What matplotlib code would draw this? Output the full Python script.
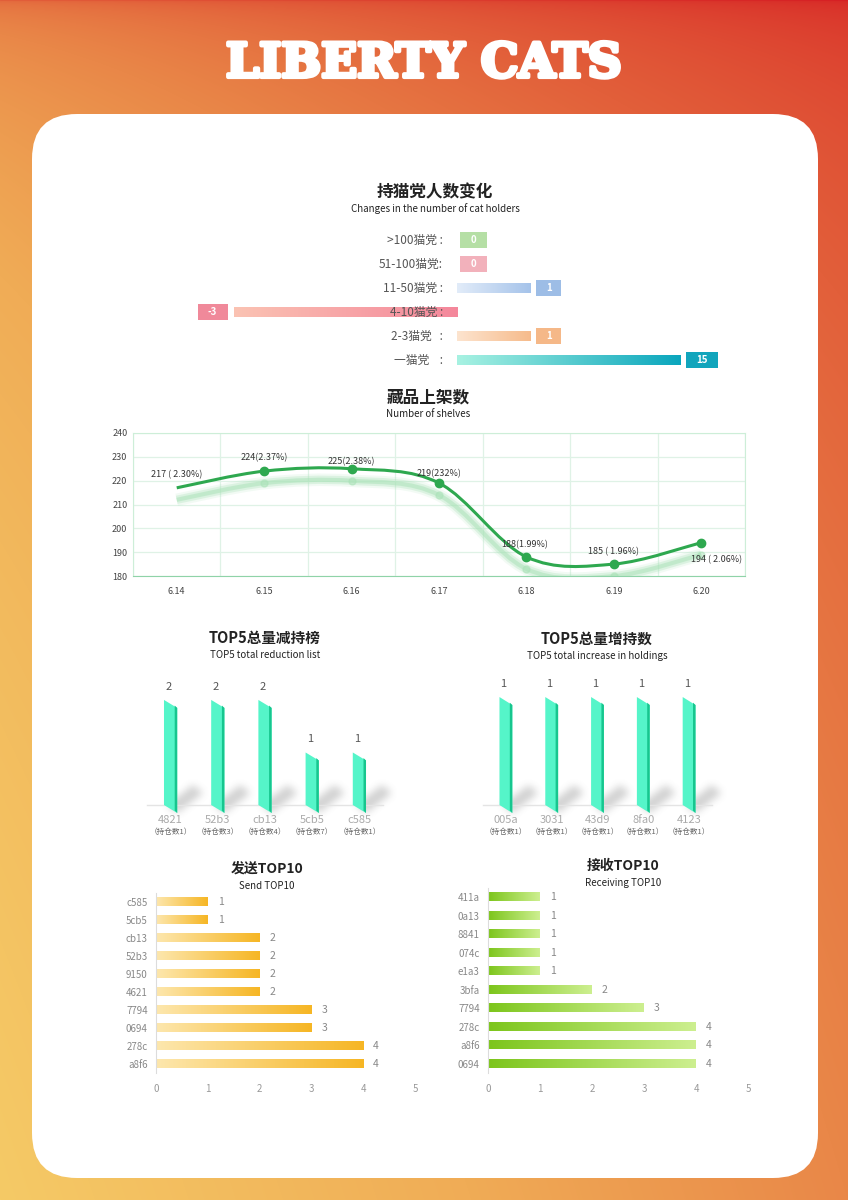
import numpy as np
import matplotlib
matplotlib.use('Agg')
import matplotlib.pyplot as plt
import matplotlib.transforms as mtrans
import matplotlib.patheffects as pe
from matplotlib.patches import FancyBboxPatch, Rectangle, Polygon, PathPatch
from matplotlib.path import Path
from matplotlib.colors import to_rgb

plt.rcParams['font.family'] = ['Noto Sans CJK SC', 'DejaVu Sans']

# ---- data ----
holder_groups = ['>100猫党 :', '51-100猫党:', '11-50猫党 :', '4-10猫党 :', '2-3猫党   :', '一猫党    :']
holder_change = [0, 0, 1, -3, 1, 15]

shelf_dates = ['6.14', '6.15', '6.16', '6.17', '6.18', '6.19', '6.20']
shelf_counts = [217, 224, 225, 219, 188, 185, 194]
shelf_labels = ['217 ( 2.30%)', '224(2.37%)', '225(2.38%)', '219(232%)',
                '188(1.99%)', '185 ( 1.96%)', '194 ( 2.06%)']

reduce_ids = ['4821', '52b3', 'cb13', '5cb5', 'c585']
reduce_vals = [2, 2, 2, 1, 1]
reduce_hold = [1, 3, 4, 7, 1]

increase_ids = ['005a', '3031', '43d9', '8fa0', '4123']
increase_vals = [1, 1, 1, 1, 1]
increase_hold = [1, 1, 1, 1, 1]

send_ids = ['c585', '5cb5', 'cb13', '52b3', '9150', '4621', '7794', '0694', '278c', 'a8f6']
send_vals = [1, 1, 2, 2, 2, 2, 3, 3, 4, 4]

recv_ids = ['411a', '0a13', '8841', '074c', 'e1a3', '3bfa', '7794', '278c', 'a8f6', '0694']
recv_vals = [1, 1, 1, 1, 1, 2, 3, 4, 4, 4]

W, H = 848, 1200
fig = plt.figure(figsize=(W / 100, H / 100), dpi=100)


def rect(x0, y0, x1, y1):
    return [x0 / W, 1 - y1 / H, (x1 - x0) / W, (y1 - y0) / H]


def grad_fill(ax, patch, c_left, c_right):
    bb = ax.transAxes.inverted().transform_bbox(patch.get_window_extent())
    g = np.linspace(0, 1, 256)[:, None]
    cols = (1 - g) * np.array(to_rgb(c_left)) + g * np.array(to_rgb(c_right))
    ax.imshow(cols[None, :, :], extent=[bb.xmin, bb.xmax, bb.ymin, bb.ymax],
              transform=ax.transAxes, aspect='auto', interpolation='bilinear', zorder=2)


def blur1d(a, r, axis):
    a = np.moveaxis(a, axis, -1)
    padw = [(0, 0)] * (a.ndim - 1) + [(r + 1, r)]
    cs = np.cumsum(np.pad(a, padw), axis=-1)
    out = (cs[..., 2 * r + 1:] - cs[..., :-2 * r - 1]) / (2 * r + 1)
    return np.moveaxis(out, -1, axis)


# ---- background ----
bg = fig.add_axes([0, 0, 1, 1])
bg.set_xlim(0, W)
bg.set_ylim(H, 0)
bg.axis('off')
u = np.linspace(0, 1, W)[None, :]
s = np.linspace(0, 1, H)[:, None] ** 0.33
d = (1 - s) * (0.35 * (1 - u)) + s * ((1 - u) + 0.55 * u)
stops = [0, 0.35, 0.55, 0.75, 1]
cols = [(214, 32, 36), (226, 95, 58), (233, 135, 72), (240, 172, 86), (245, 202, 102)]
img = np.stack([np.interp(d, stops, ch) for ch in zip(*cols)], axis=-1) / 255
bg.imshow(img, extent=[0, W, H, 0], aspect='auto', zorder=0)
bg.add_patch(FancyBboxPatch((32, 114), 786, 1064, boxstyle='round,pad=0,rounding_size=45',
                            fc='white', ec='none', zorder=1))
bg.text(424, 64, 'LIBERTY CATS', ha='center', va='center', fontsize=34, fontweight='bold',
        family='DejaVu Serif', color='white', zorder=3,
        path_effects=[pe.withStroke(linewidth=3, foreground='white')])


def titles(x, y, cn, en, size=12):
    bg.text(x, y, cn, ha='center', va='center', fontsize=size, fontweight='bold', color='#222', zorder=3)
    bg.text(x, y + 17, en, ha='center', va='center', fontsize=7, color='#222', zorder=3)


# ---- section 1: holder changes ----
titles(435, 192, '持猫党人数变化', 'Changes in the number of cat holders')
ax1 = fig.add_axes(rect(195, 228, 725, 372))
p, c = 0.41, 1.01
fwd = lambda x: np.where(np.asarray(x) >= 0, np.abs(x) ** p, c * np.asarray(x))
inv = lambda y: np.where(np.asarray(y) >= 0, np.abs(y) ** (1 / p), np.asarray(y) / c)
ax1.set_xscale('function', functions=(fwd, inv))
ax1.set_xlim(-3.52, 23.4)
ax1.set_ylim(5.5, -0.5)
ax1.axis('off')
bar_cols = [('#c8e8bc', '#b5dfa5'), ('#f4c4cc', '#f2b1bb'), ('#e2ecf9', '#a5c3ea'),
            ('#fbc3b3', '#f4879b'), ('#fde4cf', '#f6bb8b'), ('#a8f2e2', '#0aa6bd')]
box_cols = ['#b5dfa5', '#f2b1bb', '#9dbde6', '#f0899a', '#f5b888', '#12a5bc']
bars = ax1.barh(range(len(holder_change)), holder_change, height=0.4, color='none')
for i, (b, v) in enumerate(zip(bars, holder_change)):
    if v != 0:
        grad_fill(ax1, b, *bar_cols[i])
    ax1.annotate(holder_groups[i], (0, i), xytext=(-14, 0), textcoords='offset pixels',
                 ha='right', va='center', fontsize=8.5, color='#555', zorder=5)
    ex, ey = bg.transData.inverted().transform(ax1.transData.transform((v, i)))
    bw = 32 if abs(v) >= 10 else (30 if v < 0 else 25)
    if v > 0:
        bx = ex + 6
    elif v < 0:
        bx = ex - 6 - bw
    else:
        bx, bw = ex + 3, 27
    bg.add_patch(Rectangle((bx, ey - 8), bw, 16, fc=box_cols[i], ec='none', zorder=3))
    bg.text(bx + bw / 2, ey, str(v), ha='center', va='center', fontsize=7, fontweight='bold',
            color='white', zorder=4)

# ---- section 2: shelves line ----
titles(428, 397, '藏品上架数', 'Number of shelves')
ax2 = fig.add_axes(rect(133, 433, 745, 576))
ax2.set_xlim(-0.5, 6.5)
ax2.set_ylim(180, 240)
ax2.set_yticks(range(180, 241, 10))
ax2.set_xticks(range(len(shelf_dates)), shelf_dates)
ax2.set_xticks(np.arange(-0.5, 7, 1), minor=True)
ax2.grid(which='minor', axis='x', color='#dff2e6', lw=0.9)
ax2.grid(which='major', axis='y', color='#dff2e6', lw=0.9)
ax2.tick_params(which='both', length=0, labelsize=6.5, colors='#444')
ax2.tick_params(axis='x', pad=8)
ax2.tick_params(axis='y', pad=4)
for sp in ax2.spines.values():
    sp.set_color('#cdeed8')
ax2.spines['bottom'].set_color('#8fd3a8')

pts = np.column_stack([np.arange(len(shelf_counts)), shelf_counts]).astype(float)
ext = np.vstack([pts[:1], pts, pts[-1:]])
verts, codes = [pts[0]], [Path.MOVETO]
for k in range(len(pts) - 1):
    c1 = ext[k + 1] + (ext[k + 2] - ext[k]) / 6
    c2 = ext[k + 2] - (ext[k + 3] - ext[k + 1]) / 6
    verts += [c1, c2, ext[k + 2]]
    codes += [Path.CURVE4] * 3
curve = Path(verts, codes)
shift = ax2.transData + mtrans.ScaledTranslation(0, -12 / 100, fig.dpi_scale_trans)
for lw, al in [(9, 0.15), (6, 0.3), (3, 0.5)]:
    ax2.add_patch(PathPatch(curve, fc='none', ec='#a9e2b7', lw=lw, alpha=al, transform=shift, zorder=2))
ax2.plot(pts[1:, 0], pts[1:, 1], 'o', ms=5, color='#a9e2b7', alpha=0.5, transform=shift, zorder=2)
ax2.add_patch(PathPatch(curve, fc='none', ec='#2ea84f', lw=2.2, zorder=3))
ax2.plot(range(len(shelf_counts)), shelf_counts, 'o', markevery=list(range(1, 7)),
         ms=6, color='#2ea84f', ls='none', zorder=4)
offs = [(0, 13), (0, 13), (0, 7), (0, 9), (-2, 12), (0, 12), (15, -17)]
for k, (lab, o) in enumerate(zip(shelf_labels, offs)):
    ax2.annotate(lab, (k, shelf_counts[k]), xytext=o, textcoords='offset pixels',
                 ha='center', va='center', fontsize=6.5, color='#333', zorder=5)

# ---- section 3: tilted bars ----
shadow = np.zeros((H, W))
gy, gx = np.mgrid[0:H, 0:W]


def tilt_bars(ax, vals, ids, holds, ytop):
    ax.set_xlim(-0.5, len(vals) - 0.5)
    ax.set_ylim(0, ytop)
    ax.axis('off')
    pos = ax.get_position()
    ppy = pos.height * H / ytop
    ppx = pos.width * W / len(vals)
    k = 8 / ppy
    w = 0.28
    sw = 2.5 / ppx
    ax.axhline(0, color='#e4e4e4', lw=1, zorder=1, clip_on=False)
    to_px = bg.transData.inverted()
    for i, v in enumerate(vals):
        x0, x1 = i - w / 2, i + w / 2
        xl, yb = to_px.transform(ax.transData.transform((x0, 0)))
        xr, _ = to_px.transform(ax.transData.transform((x1, 0)))
        poly = Path([(xl + 3, yb), (xr, yb + 8), (xr + 26, yb - 12), (xl + 3 + 26, yb - 20)])
        sub = (slice(int(yb) - 40, int(yb) + 20), slice(int(xl) - 10, int(xr) + 50))
        pts_ = np.column_stack([gx[sub].ravel() + 0.5, gy[sub].ravel() + 0.5])
        shadow[sub] = np.maximum(shadow[sub], poly.contains_points(pts_).reshape(gx[sub].shape))
        ax.add_patch(Polygon([(x0, 0), (x1, -k), (x1, v - k), (x0, v)], fc='#55f5c9', ec='none',
                             zorder=3, clip_on=False))
        ax.add_patch(Polygon([(x1 - sw, -k + 0.3 * k), (x1, -k), (x1, v - k), (x1 - sw, v - 0.7 * k)],
                             fc='#17c68e', ec='none', zorder=4, clip_on=False))
        ax.annotate(str(v), (i - 0.05, v), xytext=(0, 13), textcoords='offset pixels',
                    ha='center', va='center', fontsize=8, color='#555')
        ax.annotate(ids[i], (i, 0), xytext=(0, -15), textcoords='offset pixels',
                    ha='center', va='center', fontsize=8, color='#aaa')
        ax.annotate('（持仓数%d）' % holds[i], (i, 0), xytext=(0, -27), textcoords='offset pixels',
                    ha='center', va='center', fontsize=5.5, color='#666')


titles(265, 638, 'TOP5总量减持榜', 'TOP5 total reduction list', size=10.5)
ax3 = fig.add_axes(rect(147, 660, 383, 805))
tilt_bars(ax3, reduce_vals, reduce_ids, reduce_hold, 2.76)

titles(597, 639, 'TOP5总量增持数', 'TOP5 total increase in holdings', size=10.5)
ax4 = fig.add_axes(rect(483, 660, 712, 805))
tilt_bars(ax4, increase_vals, increase_ids, increase_hold, 1.343)

for _ in range(2):
    shadow = blur1d(blur1d(shadow, 4, 0), 4, 1)
sh_img = np.zeros((H, W, 4))
sh_img[..., :3] = 0.45
sh_img[..., 3] = 0.32 * shadow
bg.imshow(sh_img, extent=[0, W, H, 0], aspect='auto', zorder=2)
bg.set_xlim(0, W)
bg.set_ylim(H, 0)


# ---- section 4: horizontal top10 ----
def top10(ax, ids, vals, c_left, c_right):
    ax.set_xlim(0, 5)
    ax.set_ylim(len(vals) - 0.5, -0.5)
    ax.set_yticks(range(len(ids)), ids)
    ax.set_xticks(range(6))
    ax.tick_params(length=0, labelsize=7, colors='#888')
    ax.tick_params(axis='x', pad=8, colors='#999')
    ax.tick_params(axis='y', pad=6)
    for sp in ['top', 'right', 'bottom']:
        ax.spines[sp].set_visible(False)
    ax.spines['left'].set_color('#dcdcdc')
    bars = ax.barh(range(len(vals)), vals, height=0.45, color='none')
    for b, v, i in zip(bars, vals, range(len(vals))):
        grad_fill(ax, b, c_left, c_right)
        ax.annotate(str(v), (v, i), xytext=(10, 0), textcoords='offset pixels',
                    ha='left', va='center', fontsize=7.5, color='#888')
    ax.set_xlim(0, 5)
    ax.set_ylim(len(vals) - 0.5, -0.5)


titles(267, 869, '发送TOP10', 'Send TOP10', size=10)
ax5 = fig.add_axes(rect(156, 893, 415, 1073))
top10(ax5, send_ids, send_vals, '#fde7ae', '#f6b624')

titles(623, 866, '接收TOP10', 'Receiving TOP10', size=10)
ax6 = fig.add_axes(rect(488, 888, 748, 1073))
top10(ax6, recv_ids, recv_vals, '#7cc51b', '#cdef90')

fig.savefig('out.png', dpi=100)
